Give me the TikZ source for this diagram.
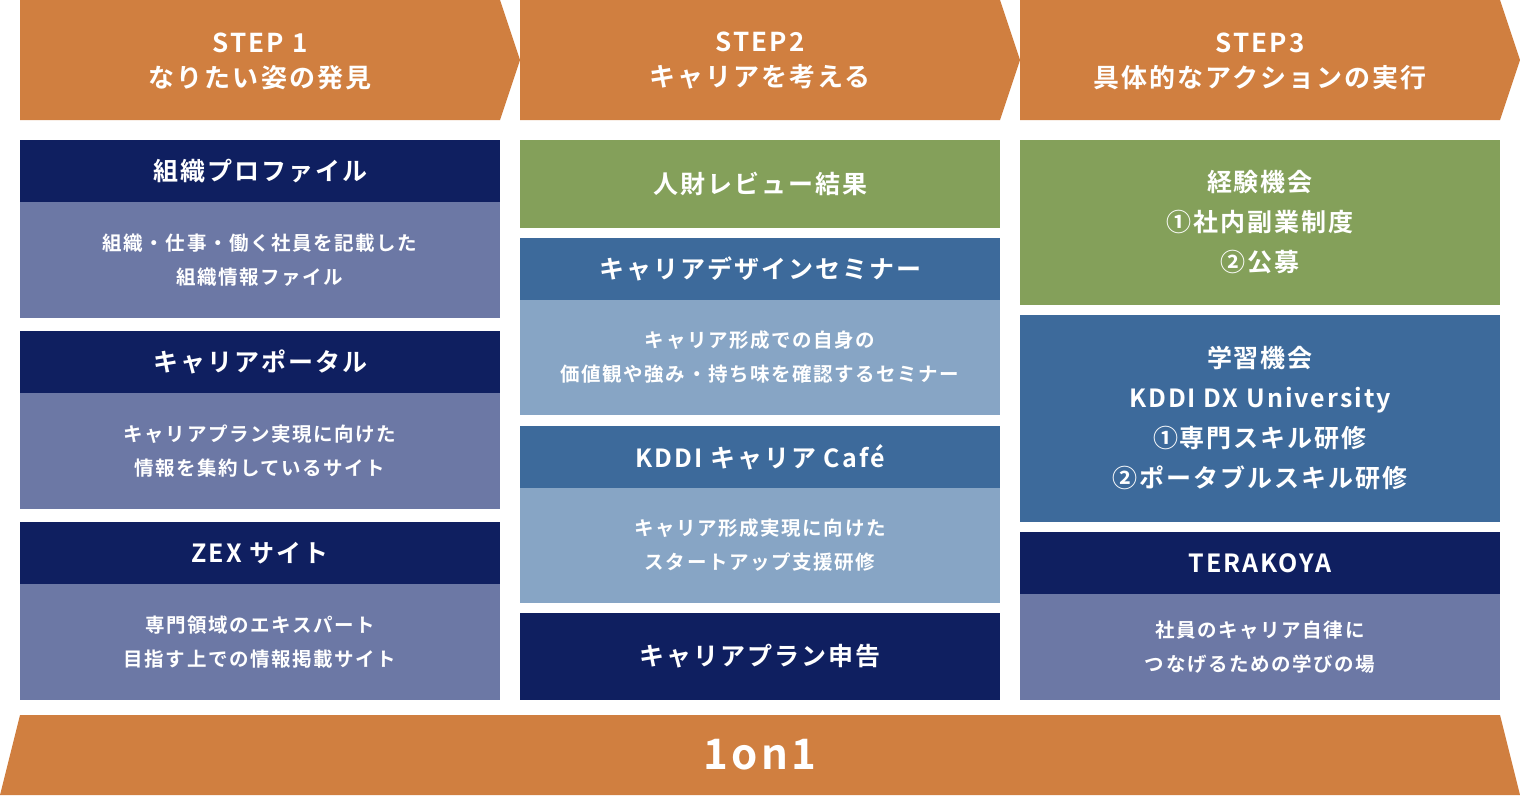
\documentclass[tikz,border=0pt]{standalone}
\usepackage{fontspec}
\setmainfont{Noto Sans CJK JP}[BoldFont={Noto Sans CJK JP Bold},LetterSpace=8]
\definecolor{org}{HTML}{D07F40}
\definecolor{navy}{HTML}{0F1F60}
\definecolor{slate}{HTML}{6C78A5}
\definecolor{grn}{HTML}{84A05A}
\definecolor{blu}{HTML}{3D6A9B}
\definecolor{lblu}{HTML}{87A5C5}
\begin{document}
\begin{tikzpicture}[x=1pt,y=-1pt,
  bx/.style={inner sep=0,minimum width=480pt,align=center,text=white,font=\bfseries},
  hd/.style={bx,font=\bfseries\fontsize{26}{35}\selectfont},
  tt/.style={bx,font=\bfseries\fontsize{25}{40}\selectfont},
  bd/.style={bx,font=\bfseries\fontsize{19.5}{34}\selectfont}]
\useasboundingbox (0,0) rectangle (1520,795);
\fill[org] (20,0)--(500,0)--(520,60)--(500,120)--(20,120)--cycle;
\fill[org] (520,0)--(1000,0)--(1020,60)--(1000,120)--(520,120)--cycle;
\fill[org] (1020,0)--(1500,0)--(1520,60)--(1500,120)--(1020,120)--cycle;
\node[hd] (h1) at (260,61) {STEP 1\\なりたい姿の発見};
\node[hd] (h2) at (760,61) {STEP2\\キャリアを考える};
\node[hd] (h3) at (1260,61) {STEP3\\具体的なアクションの実行};
% column 1
\node[tt,fill=navy,minimum height=62pt] (a1) at (260,171) {組織プロファイル};
\node[bd,fill=slate,minimum height=116pt] (a1b) at (260,260) {組織・仕事・働く社員を記載した\\組織情報ファイル};
\node[tt,fill=navy,minimum height=62pt] (a2) at (260,362) {キャリアポータル};
\node[bd,fill=slate,minimum height=116pt] (a2b) at (260,451) {キャリアプラン実現に向けた\\情報を集約しているサイト};
\node[tt,fill=navy,minimum height=62pt] (a3) at (260,553) {ZEX サイト};
\node[bd,fill=slate,minimum height=116pt] (a3b) at (260,642) {専門領域のエキスパート\\目指す上での情報掲載サイト};
% column 2
\node[tt,fill=grn,minimum height=88pt] (b1) at (760,184) {人財レビュー結果};
\node[tt,fill=blu,minimum height=62pt] (b2) at (760,269) {キャリアデザインセミナー};
\node[bd,fill=lblu,minimum height=115pt] (b2b) at (760,357.5) {キャリア形成での自身の\\価値観や強み・持ち味を確認するセミナー};
\node[tt,fill=blu,minimum height=62pt] (b3) at (760,457) {KDDI キャリア Café};
\node[bd,fill=lblu,minimum height=115pt] (b3b) at (760,545.5) {キャリア形成実現に向けた\\スタートアップ支援研修};
\node[tt,fill=navy,minimum height=87pt] (b4) at (760,656.5) {キャリアプラン申告};
% column 3
\node[tt,fill=grn,minimum height=165pt] (c1) at (1260,222.5) {経験機会\\①社内副業制度\\②公募};
\node[tt,fill=blu,minimum height=207pt] (c2) at (1260,418.5) {学習機会\\KDDI DX University\\①専門スキル研修\\②ポータブルスキル研修};
\node[tt,fill=navy,minimum height=62pt] (c3) at (1260,563) {TERAKOYA};
\node[bd,fill=slate,minimum height=106pt] (c3b) at (1260,647) {社員のキャリア自律に\\つなげるための学びの場};
% bottom
\fill[org] (20,715)--(1500,715)--(1520,795)--(0,795)--cycle;
\node[bx,font=\bfseries\fontsize{42}{48}\selectfont] (oo) at (760,755) {1on1};
\end{tikzpicture}
\end{document}
